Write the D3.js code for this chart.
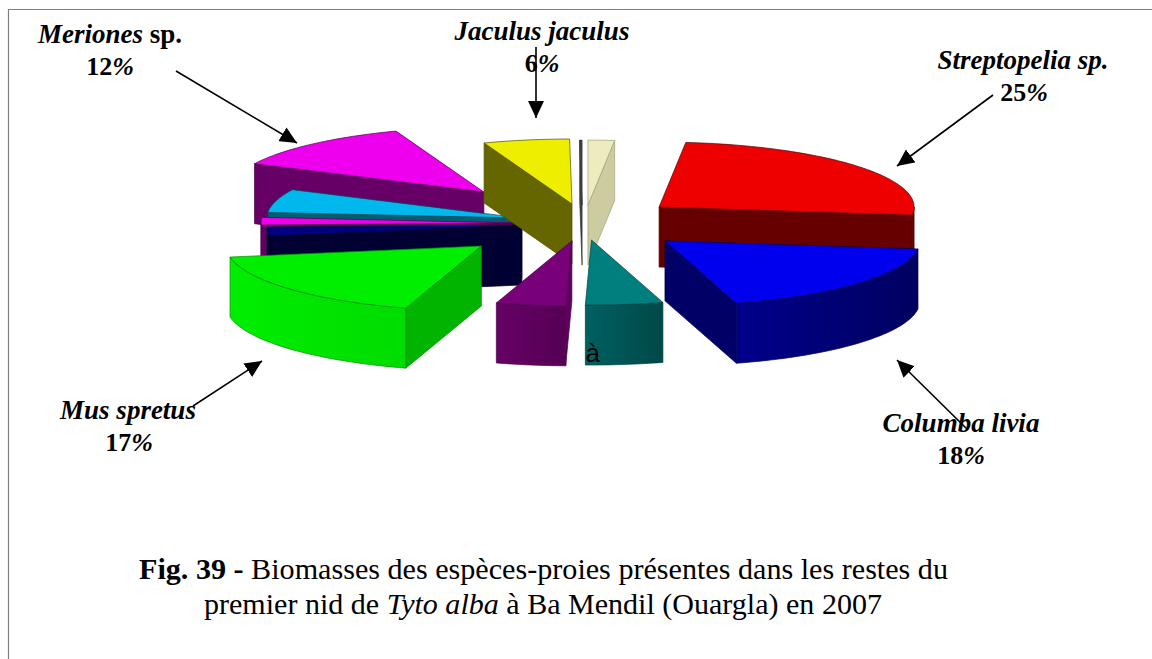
<!DOCTYPE html>
<html>
<head>
<meta charset="utf-8">
<script src="https://cdn.jsdelivr.net/npm/d3@7"></script>
<style>
  html, body { margin: 0; padding: 0; background: #fff; }
  svg { display: block; }
  text { font-family: "Liberation Serif", serif; fill: #000; }
</style>
</head>
<body>
<svg id="chart" width="1152" height="659"></svg>
<script>
// clockwise from 12 o'clock, slice sizes (only six slices are labelled)
let sliceNames = ['', 'Streptopelia sp.', 'Columba livia', '', '', 'Mus spretus', '', '', '', 'Meriones sp.', 'Jaculus jaculus', ''];
let sliceValues = [1.67, 25.3, 18.5, 4.9, 4.4, 17.5, 2.2, 1.9, 5.8, 12.2, 5.45, 0.15];

let topColors = ['#ececbe', '#ee0000', '#0000ee', '#007f7f', '#780078', '#00ee00', '#000080', '#ee00ee', '#00b8ee', '#ee00ee', '#eeee00', '#444444'];
let sideColors = ['#cccca0', '#660000', '#000066', '#005555', '#600060', '#00b400', '#000033', '#600060', '#005f70', '#660066', '#666600', '#444444'];
let rimLeft = ['#cccca0', '#660000', '#00008c', '#006060', '#660066', '#00ee00', '#000033', '#600060', '#005f70', '#660066', '#666600', '#444444'];
let rimRight = ['#cccca0', '#660000', '#000060', '#004848', '#550055', '#00dc00', '#000033', '#600060', '#005f70', '#660066', '#666600', '#444444'];

// how far each slice is pulled out, in pie radii
let explodeX = [0.039, 0.318, 0.341, 0.053, -0.024, -0.379, -0.22, -0.243, -0.22, -0.369, -0.0235, 0.016];
let explodeY = [0.26, 0.23, -0.29, -0.277, -0.29, -0.37, -0.046, -0.015, 0.06, 0.46, 0.277, 0.26];

// back slices first, front slices last
let drawOrder = [9, 8, 7, 6, 10, 11, 0, 1, 5, 4, 3, 2];

let labelLines = [
  {x: 110, y: 43, size: 27, parts: [['Meriones', true], [' sp.', false]]},
  {x: 110, y: 75, size: 26, parts: [['12', false], ['%', true]]},
  {x: 542, y: 40, size: 27, parts: [['Jaculus jaculus', true]]},
  {x: 542, y: 72, size: 26, parts: [['6', false], ['%', true]]},
  {x: 1023, y: 69, size: 27, parts: [['Streptopelia sp.', true]]},
  {x: 1024, y: 101, size: 26, parts: [['25', false], ['%', true]]},
  {x: 128, y: 419, size: 27, parts: [['Mus spretus', true]]},
  {x: 129, y: 451, size: 26, parts: [['17', false], ['%', true]]},
  {x: 961, y: 432, size: 27, parts: [['Columba livia', true]]},
  {x: 961, y: 464, size: 26, parts: [['18', false], ['%', true]]}
];

let arrows = [
  [176, 71, 297, 143],
  [536, 47, 536, 118],
  [993, 95, 897, 166],
  [193, 406, 262, 361],
  [968, 430, 897, 360]
];

let svg = d3.select('#chart');

let xScale = d3.scaleLinear().domain([-1, 1]).range([323, 833]);
let yScale = d3.scaleLinear().domain([-1, 1]).range([287, 157]);
let depth = 60;

svg.append('path')
  .attr('d', 'M1152,9.5H8.5V659')
  .attr('fill', 'none')
  .attr('stroke', '#808080')
  .attr('stroke-width', 1.2);

let defs = svg.append('defs');
defs.append('marker')
  .attr('id', 'head')
  .attr('markerUnits', 'userSpaceOnUse')
  .attr('viewBox', '0 0 17 16')
  .attr('markerWidth', 17)
  .attr('markerHeight', 16)
  .attr('refX', 17)
  .attr('refY', 8)
  .attr('orient', 'auto')
  .append('path')
  .attr('d', 'M0,0L17,8L0,16Z')
  .attr('fill', '#000');

let pie = d3.pie().sort(null).value(function(d) { return d; });
let slices = pie(sliceValues);

let point = function(i, angle, drop) {
  let ux = Math.sin(angle) + explodeX[i];
  let uy = Math.cos(angle) + explodeY[i];
  return [xScale(ux), yScale(uy) + (drop || 0)];
};
let apex = function(i, drop) {
  return [xScale(explodeX[i]), yScale(explodeY[i]) + (drop || 0)];
};
let arcPoints = function(i, a0, a1, drop) {
  let pts = [];
  let n = Math.max(2, Math.ceil((a1 - a0) / 0.03));
  d3.range(n + 1).forEach(function(k) {
    pts.push(point(i, a0 + (a1 - a0) * k / n, drop));
  });
  return pts;
};

let line = d3.line();
let pieGroup = svg.append('g');

drawOrder.forEach(function(i) {
  let s = slices[i];
  let a0 = s.startAngle, a1 = s.endAngle;
  let g = pieGroup.append('g');
  let edge = d3.color(sideColors[i]).darker(0.7).formatHex();

  let radialFace = function(a) {
    g.append('path')
      .attr('d', line([apex(i), point(i, a), point(i, a, depth), apex(i, depth)]) + 'Z')
      .attr('fill', sideColors[i])
      .attr('stroke', edge)
      .attr('stroke-width', 0.7);
  };
  // only the faces turned towards the viewer
  if (Math.sin(a0) < 0) radialFace(a0);
  if (Math.sin(a1) > 0) radialFace(a1);

  // outer rim, the part between 3 and 9 o'clock
  let r0 = Math.max(a0, Math.PI / 2), r1 = Math.min(a1, Math.PI * 1.5);
  if (r1 > r0) {
    let top = arcPoints(i, r0, r1);
    let bottom = arcPoints(i, r0, r1, depth).reverse();
    let gradId = 'rim' + i;
    let p0 = point(i, r0), p1 = point(i, r1);
    let grad = defs.append('linearGradient')
      .attr('id', gradId)
      .attr('gradientUnits', 'userSpaceOnUse')
      .attr('x1', Math.min(p0[0], p1[0])).attr('x2', Math.max(p0[0], p1[0]))
      .attr('y1', 0).attr('y2', 0);
    grad.append('stop').attr('offset', 0).attr('stop-color', rimLeft[i]);
    grad.append('stop').attr('offset', 1).attr('stop-color', rimRight[i]);
    g.append('path')
      .attr('d', line(top.concat(bottom)) + 'Z')
      .attr('fill', 'url(#' + gradId + ')')
      .attr('stroke', edge)
      .attr('stroke-width', 0.7);
  }

  g.append('path')
    .attr('d', line([apex(i)].concat(arcPoints(i, a0, a1))) + 'Z')
    .attr('fill', topColors[i])
    .attr('stroke', edge)
    .attr('stroke-width', 0.7);
});

// stray letter sitting on the teal slice in the source
svg.append('text')
  .attr('x', 585.5)
  .attr('y', 362)
  .attr('font-size', 26)
  .style('font-family', '"Liberation Sans", sans-serif')
  .text('à');

let labels = svg.append('g');
labelLines.forEach(function(l) {
  let t = labels.append('text')
    .attr('x', l.x)
    .attr('y', l.y)
    .attr('text-anchor', 'middle')
    .attr('font-size', l.size)
    .attr('font-weight', 'bold');
  l.parts.forEach(function(p) {
    t.append('tspan')
      .attr('font-style', p[1] ? 'italic' : 'normal')
      .text(p[0]);
  });
});

svg.append('g').selectAll('line')
  .data(arrows)
  .join('line')
  .attr('x1', function(d) { return d[0]; })
  .attr('y1', function(d) { return d[1]; })
  .attr('x2', function(d) { return d[2]; })
  .attr('y2', function(d) { return d[3]; })
  .attr('stroke', '#000')
  .attr('stroke-width', 1.6)
  .attr('marker-end', 'url(#head)');

let cap1 = svg.append('text').attr('x', 139).attr('y', 579).attr('font-size', 30)
  .attr('textLength', 809).attr('lengthAdjust', 'spacingAndGlyphs');
cap1.append('tspan').attr('font-weight', 'bold').text('Fig. 39 - ');
cap1.append('tspan').text('Biomasses des espèces-proies présentes dans les restes du');

let cap2 = svg.append('text').attr('x', 204).attr('y', 614).attr('font-size', 30)
  .attr('textLength', 678).attr('lengthAdjust', 'spacingAndGlyphs');
cap2.append('tspan').text('premier nid de ');
cap2.append('tspan').attr('font-style', 'italic').text('Tyto alba');
cap2.append('tspan').text(' à Ba Mendil (Ouargla) en 2007');
</script>
</body>
</html>
